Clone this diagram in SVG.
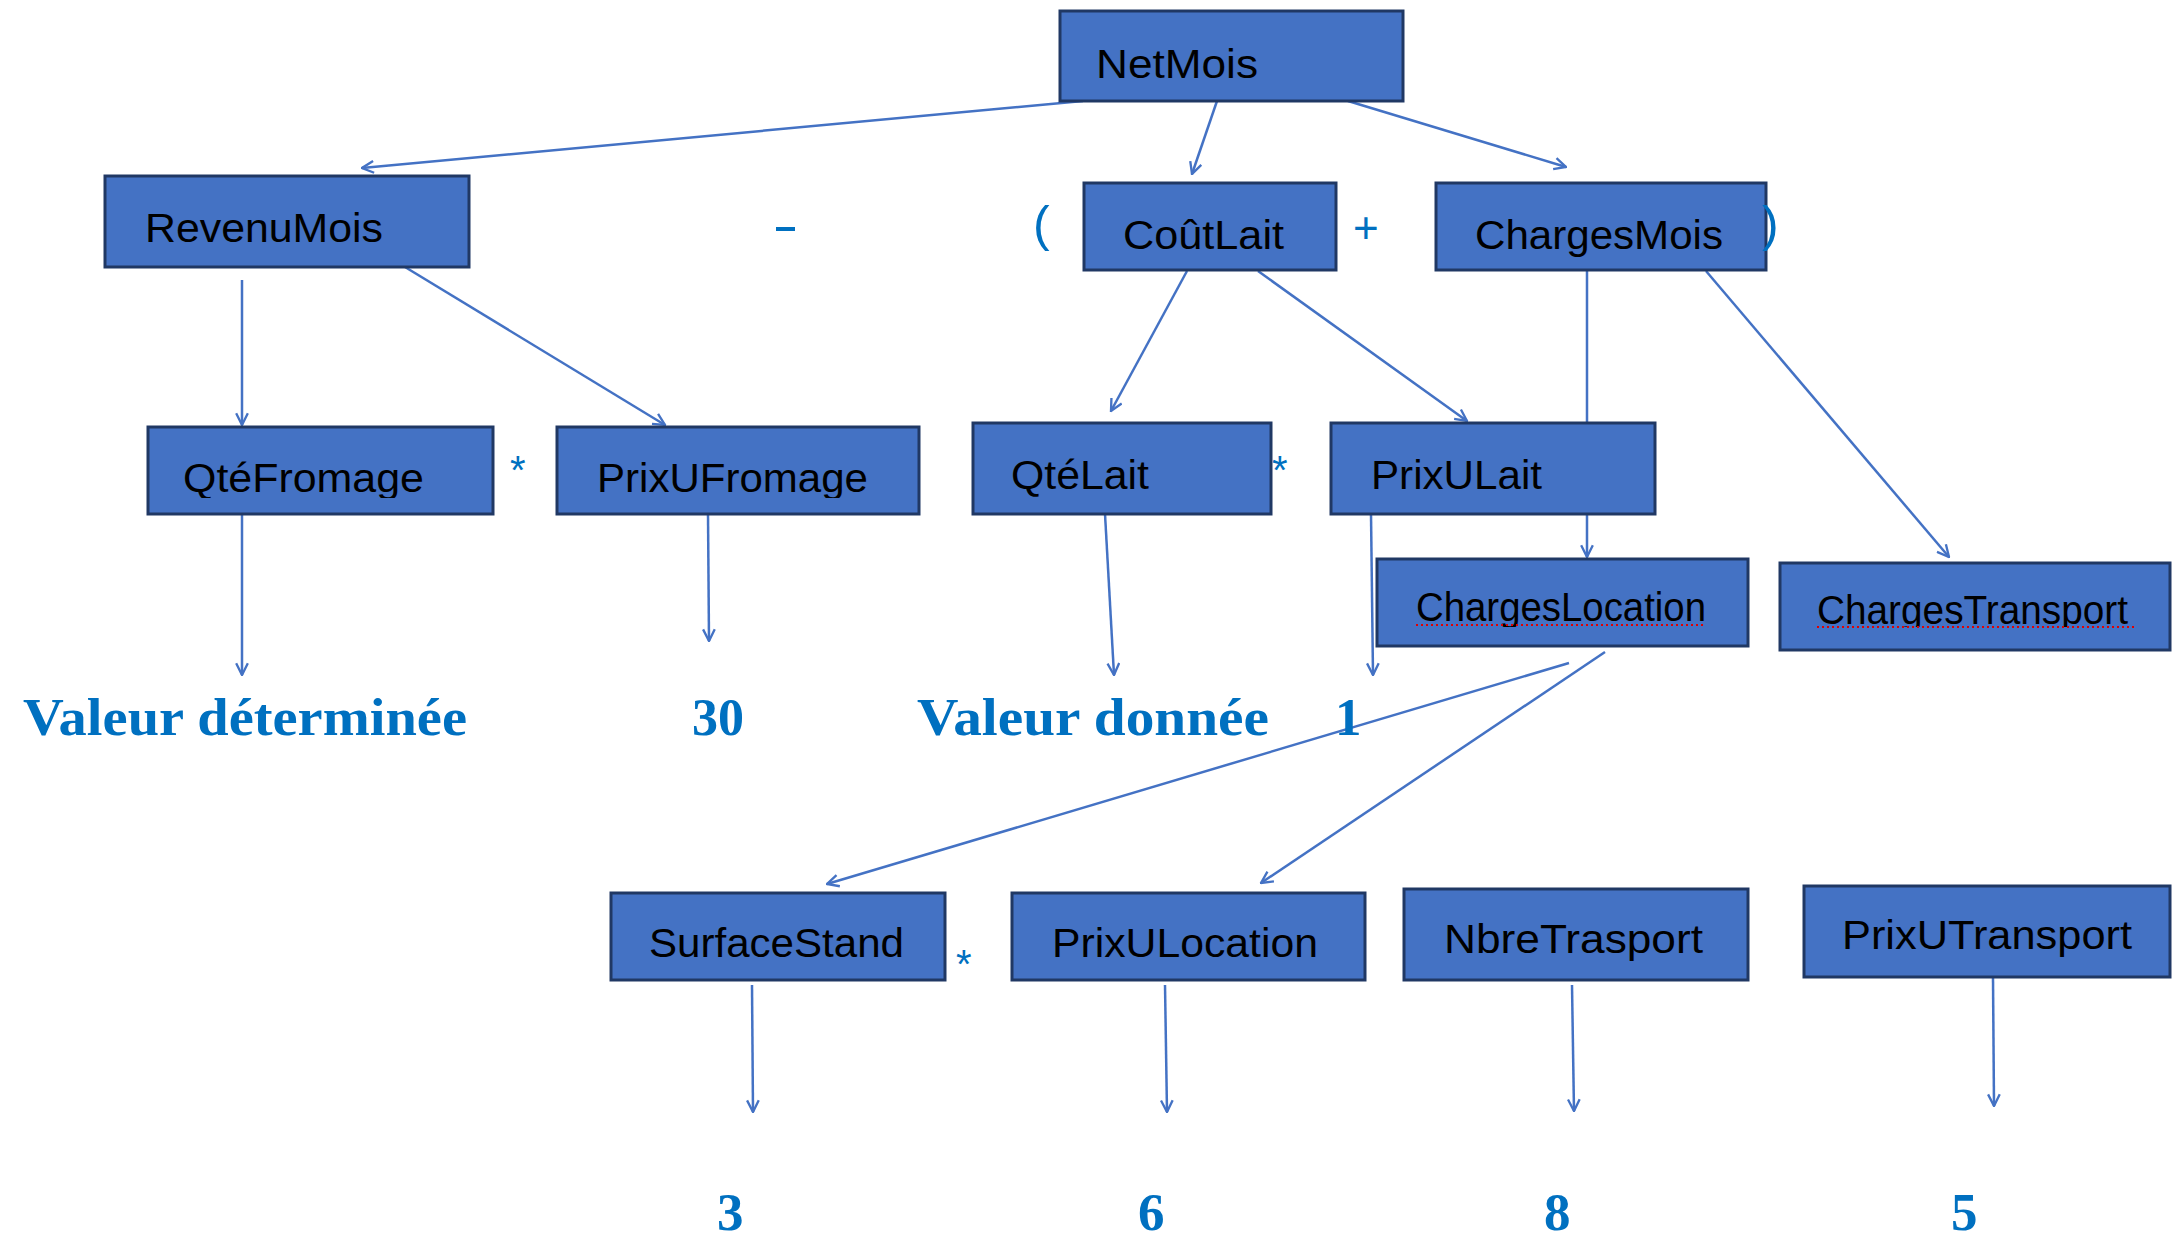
<svg xmlns="http://www.w3.org/2000/svg" width="2172" height="1237" viewBox="0 0 2172 1237">
<defs>
<style>
.box{fill:#4472C4;stroke:#203864;stroke-width:3}
.lbl{font-family:"Liberation Sans",Arial,sans-serif;font-size:40px;fill:#000}
.val{font-family:"Liberation Serif","Times New Roman",serif;font-size:53px;font-weight:bold;fill:#0070C0}
.op{font-family:"Liberation Sans",Arial,sans-serif;fill:#0070C0}
.con{stroke:#4472C4;stroke-width:2.5;fill:none;marker-end:url(#arr)}
.sp{stroke:#E00000;stroke-width:2;stroke-dasharray:2 3}
</style>
<marker id="arr" viewBox="0 0 12 12" refX="11" refY="6" markerWidth="14" markerHeight="14" markerUnits="userSpaceOnUse" orient="auto">
<path d="M1,1 L11,6 L1,11" fill="none" stroke="#4472C4" stroke-width="2"/>
</marker>
<clipPath id="c1"><rect x="140" y="420" width="800" height="78"/></clipPath>
<clipPath id="c2"><rect x="1400" y="550" width="770" height="77"/></clipPath>
</defs>
<g id="connectors">
<line class="con" x1="1083" y1="101" x2="362" y2="168"/>
<line class="con" x1="1217" y1="101" x2="1192" y2="174"/>
<line class="con" x1="1348" y1="101" x2="1566" y2="167"/>
<line class="con" x1="242" y1="280" x2="242" y2="425"/>
<line class="con" x1="405" y1="267" x2="665" y2="425"/>
<line class="con" x1="1187" y1="271" x2="1111" y2="411"/>
<line class="con" x1="1258" y1="271" x2="1467" y2="421"/>
<line class="con" x1="1587" y1="271" x2="1587" y2="557"/>
<line class="con" x1="1706" y1="271" x2="1949" y2="557"/>
<line class="con" x1="242" y1="514" x2="242" y2="675"/>
<line class="con" x1="708" y1="514" x2="709" y2="641"/>
<line class="con" x1="1105" y1="514" x2="1114" y2="675"/>
<line class="con" x1="1371" y1="514" x2="1373" y2="675"/>
<line class="con" x1="1569" y1="663" x2="827" y2="884"/>
<line class="con" x1="1605" y1="652" x2="1261" y2="883"/>
<line class="con" x1="752" y1="985" x2="753" y2="1112"/>
<line class="con" x1="1165" y1="985" x2="1167" y2="1112"/>
<line class="con" x1="1572" y1="985" x2="1574" y2="1111"/>
<line class="con" x1="1993" y1="978" x2="1994" y2="1106"/>
</g>
<g id="NetMois"><rect class="box" x="1060" y="11" width="343" height="90"/><text class="lbl" x="1096" y="78" textLength="162" lengthAdjust="spacingAndGlyphs">NetMois</text></g>
<g id="RevenuMois"><rect class="box" x="105" y="176" width="364" height="91"/><text class="lbl" x="145" y="242" textLength="238" lengthAdjust="spacingAndGlyphs">RevenuMois</text></g>
<g id="CoutLait"><rect class="box" x="1084" y="183" width="252" height="87"/><text class="lbl" x="1123" y="249" textLength="161" lengthAdjust="spacingAndGlyphs">CoûtLait</text></g>
<g id="ChargesMois"><rect class="box" x="1436" y="183" width="330" height="87"/><text class="lbl" x="1475" y="249" textLength="248" lengthAdjust="spacingAndGlyphs">ChargesMois</text></g>
<g id="QteFromage"><rect class="box" x="148" y="427" width="345" height="87"/><text class="lbl" x="183" y="492" textLength="241" lengthAdjust="spacingAndGlyphs" clip-path="url(#c1)">QtéFromage</text></g>
<g id="PrixUFromage"><rect class="box" x="557" y="427" width="362" height="87"/><text class="lbl" x="597" y="492" textLength="271" lengthAdjust="spacingAndGlyphs" clip-path="url(#c1)">PrixUFromage</text></g>
<g id="QteLait"><rect class="box" x="973" y="423" width="298" height="91"/><text class="lbl" x="1011" y="489" textLength="138" lengthAdjust="spacingAndGlyphs">QtéLait</text></g>
<g id="PrixULait"><rect class="box" x="1331" y="423" width="324" height="91"/><text class="lbl" x="1371" y="489" textLength="171" lengthAdjust="spacingAndGlyphs">PrixULait</text></g>
<g id="ChargesLocation"><rect class="box" x="1377" y="559" width="371" height="87"/><text class="lbl" x="1416" y="621" textLength="290" lengthAdjust="spacingAndGlyphs" clip-path="url(#c2)">ChargesLocation</text><line class="sp" x1="1416" y1="625" x2="1706" y2="625"/></g>
<g id="ChargesTransport"><rect class="box" x="1780" y="563" width="390" height="87"/><text class="lbl" x="1817" y="624" textLength="311" lengthAdjust="spacingAndGlyphs" clip-path="url(#c2)">ChargesTransport</text><line class="sp" x1="1817" y1="627" x2="2134" y2="627"/></g>
<g id="SurfaceStand"><rect class="box" x="611" y="893" width="334" height="87"/><text class="lbl" x="649" y="957" textLength="255" lengthAdjust="spacingAndGlyphs">SurfaceStand</text></g>
<g id="PrixULocation"><rect class="box" x="1012" y="893" width="353" height="87"/><text class="lbl" x="1052" y="957" textLength="266" lengthAdjust="spacingAndGlyphs">PrixULocation</text></g>
<g id="NbreTrasport"><rect class="box" x="1404" y="889" width="344" height="91"/><text class="lbl" x="1444" y="953" textLength="259" lengthAdjust="spacingAndGlyphs">NbreTrasport</text></g>
<g id="PrixUTransport"><rect class="box" x="1804" y="886" width="366" height="91"/><text class="lbl" x="1842" y="949" textLength="290" lengthAdjust="spacingAndGlyphs">PrixUTransport</text></g>
<g id="operators">
<rect x="776" y="227" width="19" height="4" fill="#0070C0"/>
<text class="op" x="1033" y="241" font-size="50">(</text>
<text class="op" x="1762" y="241" font-size="50">)</text>
<text class="op" x="1353" y="243" font-size="44">+</text>
<text class="op" x="510" y="484" font-size="40">*</text>
<text class="op" x="1272" y="484" font-size="40">*</text>
<text class="op" x="956" y="978" font-size="40">*</text>
</g>
<g id="values">
<text class="val" x="23" y="735" textLength="444" lengthAdjust="spacingAndGlyphs">Valeur déterminée</text>
<text class="val" x="692" y="735" textLength="52" lengthAdjust="spacingAndGlyphs">30</text>
<text class="val" x="917" y="735" textLength="352" lengthAdjust="spacingAndGlyphs">Valeur donnée</text>
<text class="val" x="1335" y="735">1</text>
<text class="val" x="717" y="1230">3</text>
<text class="val" x="1138" y="1230">6</text>
<text class="val" x="1544" y="1230">8</text>
<text class="val" x="1951" y="1230">5</text>
</g>
</svg>
